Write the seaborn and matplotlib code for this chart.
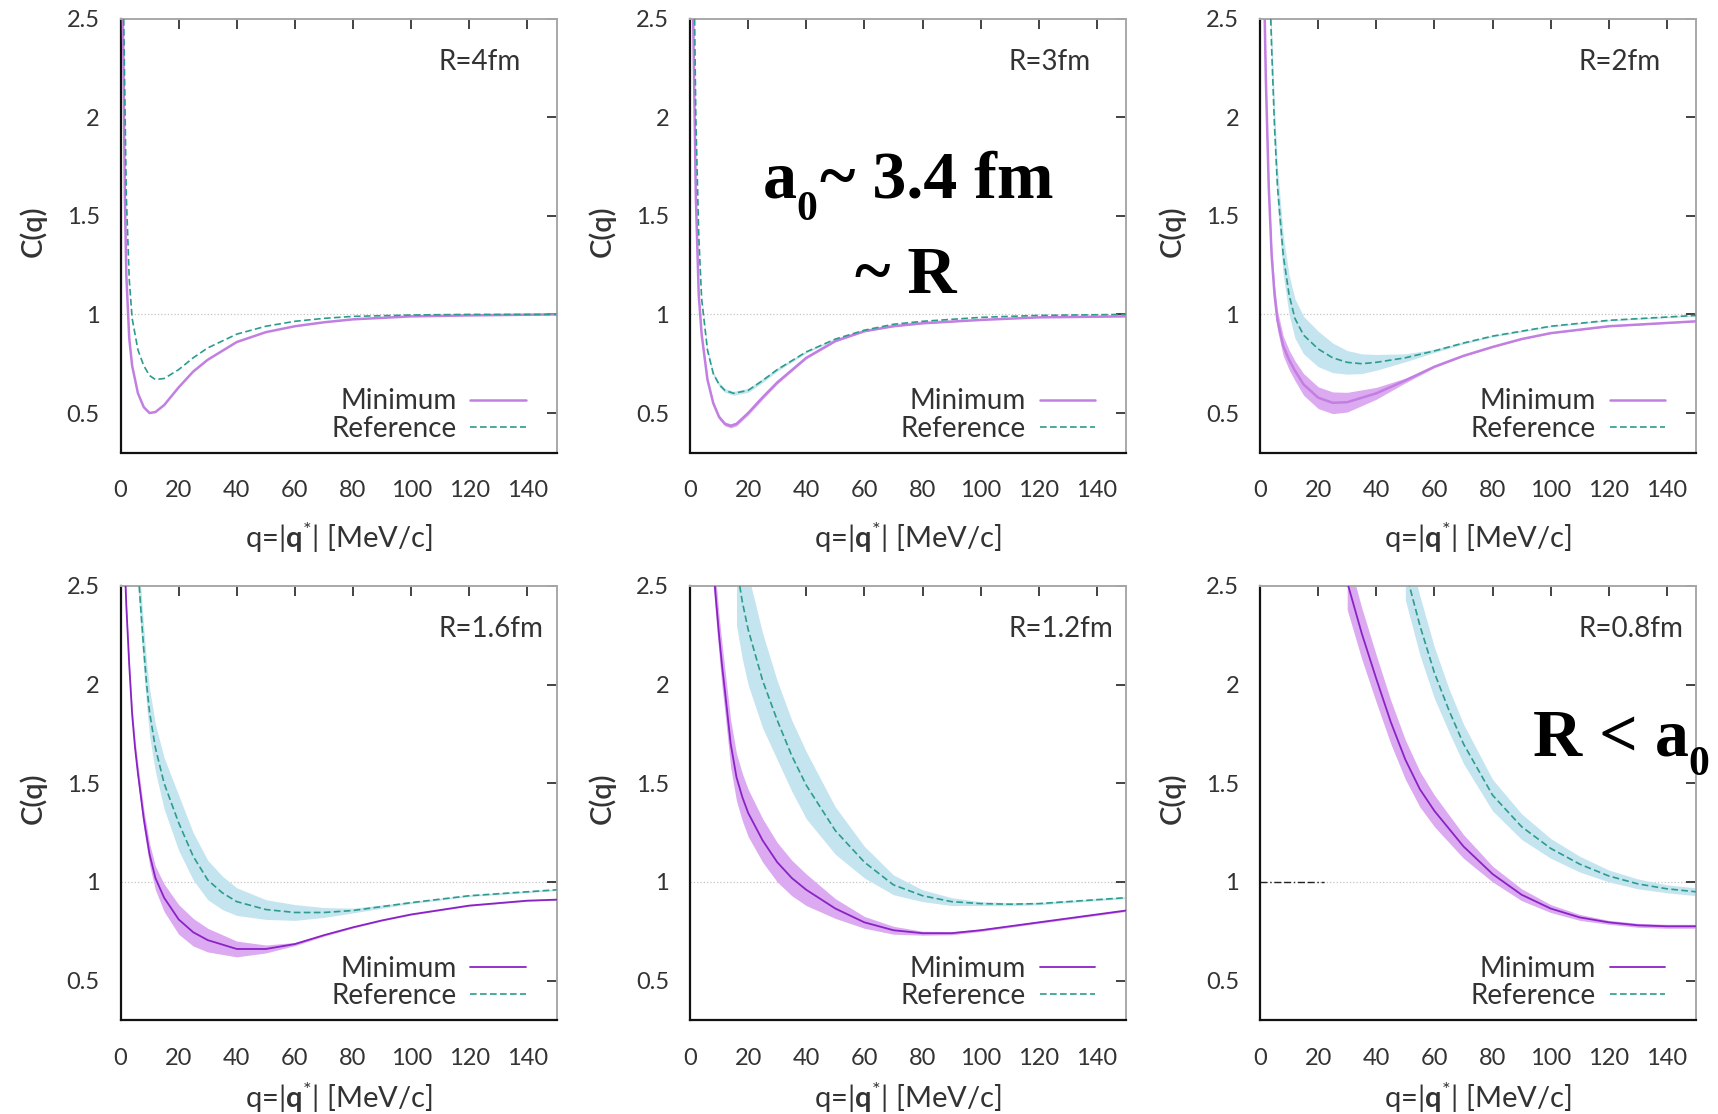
import seaborn as sns
import matplotlib.pyplot as plt

# values (q in MeV/c, C(q))
# R = 4 fm
q4_min = [0.6, 1, 1.5, 2, 3, 4, 6, 8, 10, 12, 15, 20, 25, 30, 40, 50, 60, 70, 80, 100, 120, 150]
c4_min = [2.7, 2.3, 1.6, 1.2, 0.88, 0.74, 0.6, 0.53, 0.5, 0.505, 0.54, 0.63, 0.71, 0.77, 0.86,
          0.91, 0.94, 0.96, 0.975, 0.99, 0.995, 1.0]
e4_min = [0.0] * len(q4_min)
q4_ref = [1, 2, 3, 4, 6, 8, 10, 12, 15, 20, 25, 30, 40, 50, 60, 70, 80, 100, 120, 150]
c4_ref = [2.6, 1.6, 1.18, 0.98, 0.82, 0.74, 0.69, 0.67, 0.675, 0.72, 0.78, 0.83, 0.9, 0.94,
          0.965, 0.98, 0.99, 0.997, 1.0, 1.0]
e4_ref = [0.0] * len(q4_ref)

# R = 3 fm
q3_min = [1, 2, 3, 4, 6, 8, 10, 12, 14, 16, 20, 25, 30, 40, 50, 60, 70, 80, 100, 120, 150]
c3_min = [2.6, 1.6, 1.1, 0.9, 0.67, 0.55, 0.48, 0.445, 0.435, 0.445, 0.5, 0.58, 0.655, 0.78,
          0.865, 0.915, 0.94, 0.955, 0.972, 0.985, 0.99]
e3_min = [0.0, 0.01, 0.01, 0.01, 0.01, 0.01, 0.01, 0.01, 0.01, 0.01, 0.01, 0.01, 0.008, 0.005,
          0.004, 0.003, 0.002, 0.002, 0.0, 0.0, 0.0]
q3_ref = [1.5, 2, 3, 4, 6, 8, 10, 12, 15, 20, 25, 30, 40, 50, 60, 70, 80, 100, 120, 150]
c3_ref = [2.6, 2.0, 1.4, 1.08, 0.82, 0.7, 0.645, 0.615, 0.6, 0.615, 0.665, 0.72, 0.81, 0.875,
          0.92, 0.95, 0.965, 0.985, 0.995, 1.0]
e3_ref = [0.0, 0.01, 0.01, 0.01, 0.01, 0.01, 0.01, 0.01, 0.01, 0.01, 0.01, 0.008, 0.005, 0.004,
          0.003, 0.002, 0.002, 0.0, 0.0, 0.0]

# R = 2 fm
q2_min = [1.5, 2, 3, 4, 5, 6, 8, 10, 12, 15, 20, 25, 30, 40, 50, 60, 70, 80, 90, 100, 120, 150]
c2_min = [2.6, 2.2, 1.65, 1.3, 1.1, 0.97, 0.84, 0.77, 0.715, 0.645, 0.578, 0.552, 0.555, 0.6,
          0.665, 0.735, 0.79, 0.835, 0.875, 0.905, 0.94, 0.965]
e2_min = [0.04, 0.04, 0.045, 0.05, 0.05, 0.05, 0.05, 0.05, 0.05, 0.055, 0.055, 0.055, 0.05, 0.03,
          0.012, 0.005, 0.003, 0.003, 0.002, 0.002, 0.002, 0.002]
q2_ref = [3.5, 4, 5, 6, 8, 10, 12, 15, 20, 25, 30, 35, 40, 50, 60, 70, 80, 100, 120, 150]
c2_ref = [2.6, 2.35, 1.95, 1.65, 1.3, 1.1, 0.98, 0.895, 0.825, 0.78, 0.757, 0.75, 0.757, 0.78,
          0.815, 0.855, 0.89, 0.94, 0.97, 0.995]
e2_ref = [0.1, 0.1, 0.1, 0.1, 0.1, 0.1, 0.1, 0.095, 0.09, 0.075, 0.06, 0.05, 0.04, 0.02,
          0.008, 0.005, 0.004, 0.003, 0.003, 0.003]

# R = 1.6 fm
q16_min = [1.5, 2, 3, 4, 5, 6, 8, 10, 12, 15, 20, 25, 30, 40, 50, 60, 70, 80, 90, 100, 120, 140, 150]
c16_min = [2.6, 2.4, 2.1, 1.85, 1.68, 1.55, 1.32, 1.14, 1.02, 0.92, 0.81, 0.745, 0.705, 0.66,
           0.66, 0.685, 0.73, 0.77, 0.805, 0.835, 0.88, 0.905, 0.91]
e16_min = [0.03, 0.03, 0.035, 0.04, 0.04, 0.045, 0.05, 0.055, 0.06, 0.07, 0.075, 0.07, 0.06,
           0.04, 0.02, 0.008, 0.005, 0.004, 0.003, 0.003, 0.003, 0.003, 0.003]
q16_ref = [6, 7, 8, 9, 10, 12, 15, 20, 25, 30, 35, 40, 50, 60, 70, 80, 90, 100, 120, 140, 150]
c16_ref = [2.6, 2.38, 2.18, 2.0, 1.86, 1.68, 1.5, 1.3, 1.13, 1.01, 0.945, 0.9, 0.86, 0.845,
           0.845, 0.855, 0.875, 0.895, 0.93, 0.95, 0.96]
e16_ref = [0.11, 0.11, 0.11, 0.11, 0.12, 0.12, 0.13, 0.14, 0.12, 0.1, 0.085, 0.07, 0.05, 0.04,
           0.025, 0.012, 0.008, 0.005, 0.004, 0.004, 0.004]

# R = 1.2 fm
q12_min = [8, 9, 10, 11, 12, 14, 16, 18, 20, 25, 30, 35, 40, 50, 60, 70, 80, 90, 100, 120, 140, 150]
c12_min = [2.6, 2.42, 2.25, 2.1, 1.97, 1.7, 1.53, 1.43, 1.35, 1.21, 1.1, 1.02, 0.96, 0.865, 0.795,
           0.755, 0.74, 0.74, 0.755, 0.795, 0.835, 0.855]
e12_min = [0.1, 0.1, 0.1, 0.11, 0.11, 0.12, 0.12, 0.12, 0.12, 0.11, 0.1, 0.09, 0.08, 0.05, 0.03,
           0.02, 0.01, 0.008, 0.006, 0.005, 0.005, 0.005]
q12_ref = [16, 18, 20, 25, 30, 35, 40, 50, 60, 70, 80, 90, 100, 110, 120, 140, 150]
c12_ref = [2.6, 2.42, 2.28, 2.02, 1.82, 1.64, 1.49, 1.26, 1.1, 0.985, 0.93, 0.9, 0.89, 0.887, 0.89,
           0.91, 0.92]
e12_ref = [0.3, 0.29, 0.28, 0.24, 0.2, 0.18, 0.17, 0.12, 0.08, 0.05, 0.03, 0.02, 0.01, 0.008,
           0.006, 0.005, 0.005]

# R = 0.8 fm
q08_min = [30, 35, 40, 45, 50, 55, 60, 65, 70, 80, 90, 100, 110, 120, 130, 140, 150]
c08_min = [2.52, 2.26, 2.03, 1.81, 1.62, 1.47, 1.36, 1.27, 1.18, 1.04, 0.935, 0.865, 0.82, 0.795,
           0.78, 0.775, 0.775]
e08_min = [0.14, 0.13, 0.12, 0.11, 0.1, 0.09, 0.08, 0.07, 0.06, 0.04, 0.03, 0.02, 0.015, 0.01,
           0.01, 0.01, 0.01]
q08_ref = [50, 55, 60, 65, 70, 80, 90, 100, 110, 120, 130, 140, 150]
c08_ref = [2.58, 2.3, 2.06, 1.87, 1.7, 1.44, 1.28, 1.17, 1.09, 1.03, 0.99, 0.965, 0.95]
e08_ref = [0.15, 0.15, 0.13, 0.11, 0.1, 0.08, 0.065, 0.05, 0.04, 0.03, 0.025, 0.02, 0.02]

# stray dash-dot stub on the C=1 line of the last panel
stub_q = [0, 22]
stub_c = [1, 1]

radius_labels = ['R=4fm', 'R=3fm', 'R=2fm', 'R=1.6fm', 'R=1.2fm', 'R=0.8fm']
x_ticks = [0, 20, 40, 60, 80, 100, 120, 140]
y_ticks = [0.5, 1, 1.5, 2, 2.5]
y_tick_labels = ['0.5', '1', '1.5', '2', '2.5']

panels = [
    (q4_min, c4_min, e4_min, q4_ref, c4_ref, e4_ref),
    (q3_min, c3_min, e3_min, q3_ref, c3_ref, e3_ref),
    (q2_min, c2_min, e2_min, q2_ref, c2_ref, e2_ref),
    (q16_min, c16_min, e16_min, q16_ref, c16_ref, e16_ref),
    (q12_min, c12_min, e12_min, q12_ref, c12_ref, e12_ref),
    (q08_min, c08_min, e08_min, q08_ref, c08_ref, e08_ref),
]

sns.set_theme(style='white')
plt.rcParams['font.family'] = ['Lato', 'DejaVu Sans']
plt.rcParams['mathtext.fontset'] = 'custom'
plt.rcParams['mathtext.rm'] = 'Lato'
plt.rcParams['mathtext.bf'] = 'Lato:bold'

W, H = 1718, 1114
fig = plt.figure(figsize=(W / 100, H / 100), dpi=100)

lefts = [120.5, 690, 1260]
bottoms = [452.5, 1020]
xlabel_y = [-0.155, -0.138]
aw, ah = 436, 434

band_min = '#dcaaf0'
band_ref = '#c4e5ef'
ref_col = '#2e9c8c'
txt_col = '#333333'

for i, (qm, cm, em, qr, cr, er) in enumerate(panels):
    row, col = divmod(i, 3)
    ax = fig.add_axes([lefts[col] / W, 1 - bottoms[row] / H, aw / W, ah / H])
    min_col = '#c27fe2' if row == 0 else '#8a23c6'
    min_lw = 1.8 if row == 0 else 1.3

    ax.axhline(1, color='#c4c4c4', lw=0.9, ls=':', zorder=0)
    ax.fill_between(qm, [c - e for c, e in zip(cm, em)], [c + e for c, e in zip(cm, em)],
                    color=band_min, lw=0, zorder=1)
    ax.fill_between(qr, [c - e for c, e in zip(cr, er)], [c + e for c, e in zip(cr, er)],
                    color=band_ref, lw=0, zorder=1)
    sns.lineplot(x=qm, y=cm, ax=ax, color=min_col, lw=min_lw, label='Minimum',
                 sort=False, zorder=3)
    sns.lineplot(x=qr, y=cr, ax=ax, color=ref_col, lw=1.2, linestyle=(0, (4, 2)),
                 label='Reference', sort=False, zorder=3)
    if i == 5:
        ax.plot(stub_q, stub_c, color='#222222', lw=1.0, ls=(0, (5, 2, 1, 2, 5, 2)), zorder=2)

    ax.set_xlim(0, 150)
    ax.set_ylim(0.3, 2.5)
    ax.set_xticks(x_ticks)
    ax.set_yticks(y_ticks)
    ax.set_yticklabels(y_tick_labels)
    ax.tick_params(direction='in', length=7, width=1.2, top=True, right=True,
                   labelsize=17, labelcolor=txt_col, color='#222222')
    ax.tick_params(axis='x', pad=20)
    ax.tick_params(axis='y', pad=15)
    for t in ax.xaxis.get_major_ticks() + ax.yaxis.get_major_ticks():
        t.tick2line.set_color('#aaaaaa')
    for side in ['left', 'bottom']:
        ax.spines[side].set_color('#111111')
        ax.spines[side].set_linewidth(1.6)
    for side in ['top', 'right']:
        ax.spines[side].set_color('#a8a8a8')
        ax.spines[side].set_linewidth(1.4)

    ax.set_xlabel(r'q=|$\mathbf{q}^{*}$| [MeV/c]', fontsize=21, color=txt_col)
    ax.set_ylabel('C(q)', fontsize=21, color=txt_col, fontweight='semibold')
    ax.xaxis.set_label_coords(0.5, xlabel_y[row])
    ax.yaxis.set_label_coords(-0.17, 0.51)

    ax.text(0.73, 0.90, radius_labels[i], transform=ax.transAxes, fontsize=20,
            color=txt_col, ha='left', va='center')

    leg = ax.legend(loc='lower right', bbox_to_anchor=(0.93, 0.025), frameon=False,
                    markerfirst=False, fontsize=20, handlelength=2.0, handletextpad=0.5,
                    labelspacing=0.05, borderpad=0, borderaxespad=0)
    for t in leg.get_texts():
        t.set_color(txt_col)

# big serif annotations
serif = dict(family='Liberation Serif', fontweight='bold', color='black', va='baseline')
fig.text(763 / W, 1 - 198 / H, 'a', fontsize=49, **serif)
fig.text(796 / W, 1 - 220 / H, '0', fontsize=30, **serif)
fig.text(820 / W, 1 - 198 / H, '~ 3.4 fm', fontsize=49, **serif)
fig.text(906 / W, 1 - 293 / H, '~ R', fontsize=49, ha='center', **serif)
fig.text(1533 / W, 1 - 755 / H, 'R < a', fontsize=49, **serif)
fig.text(1688 / W, 1 - 775 / H, '0', fontsize=30, **serif)

fig.savefig('out.png', dpi=100, facecolor='white')
